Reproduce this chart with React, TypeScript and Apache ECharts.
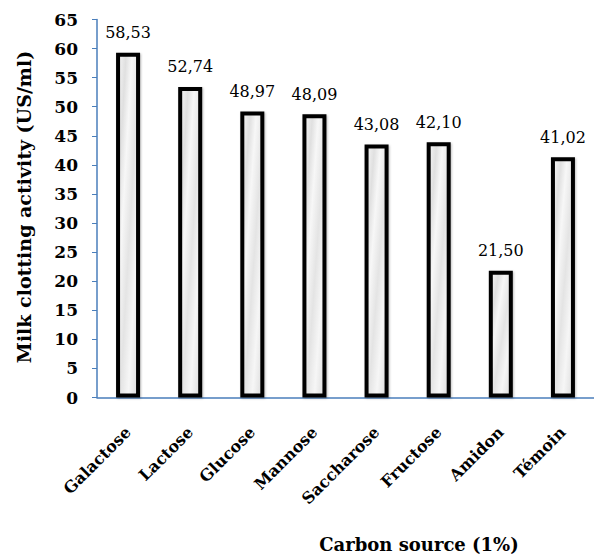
import React, { useEffect, useRef } from "react";
import * as echarts from "echarts";

const categories = ["Galactose", "Lactose", "Glucose", "Mannose", "Saccharose", "Fructose", "Amidon", "Témoin"];
const barHeights = [59.3, 53.4, 49.2, 48.7, 43.5, 43.9, 21.8, 41.3];
const valueLabels = ["58,53", "52,74", "48,97", "48,09", "43,08", "42,10", "21,50", "41,02"];
const yMin = 0;
const yMax = 65;
const yStep = 5;
const yTitle = "Milk clotting activity (US/ml)";
const xTitle = "Carbon source (1%)";

const FONT = "'DejaVu Serif', 'Liberation Serif', serif";
const AXIS_BLUE = "#4a7ebb";

export default function App() {
  const ref = useRef<HTMLDivElement>(null);
  useEffect(() => {
    if (!ref.current) return;
    const chart = echarts.init(ref.current, undefined, { renderer: "svg" });
    const fill = new echarts.graphic.LinearGradient(0, 0, 1, 1, [
      { offset: 0, color: "#f6f6f6" },
      { offset: 0.2, color: "#e0e0e0" },
      { offset: 0.35, color: "#f7f7f7" },
      { offset: 0.55, color: "#e4e4e4" },
      { offset: 0.75, color: "#f6f6f6" },
      { offset: 1, color: "#dcdcdc" },
    ]);
    chart.setOption({
      animation: false,
      backgroundColor: "#ffffff",
      grid: { left: 97, top: 19.5, right: -6, bottom: 156.5 },
      xAxis: {
        type: "category",
        data: categories,
        axisLine: { show: true, lineStyle: { color: AXIS_BLUE, width: 1.5 } },
        axisTick: { show: false },
        axisLabel: {
          rotate: 45,
          margin: 32,
          color: "#000",
          fontFamily: FONT,
          fontWeight: "bold",
          fontSize: 16,
          interval: 0,
        },
      },
      yAxis: {
        type: "value",
        min: yMin,
        max: yMax,
        interval: yStep,
        axisLine: { show: true, lineStyle: { color: AXIS_BLUE, width: 1.5 } },
        axisTick: { show: true, length: 5, lineStyle: { color: AXIS_BLUE } },
        splitLine: { show: false },
        axisLabel: {
          margin: 19,
          color: "#000",
          fontFamily: FONT,
          fontWeight: "bold",
          fontSize: 17,
        },
      },
      series: [
        {
          type: "bar",
          data: barHeights,
          barWidth: 24,
          itemStyle: {
            color: fill,
            borderColor: "#000",
            borderWidth: 4,
            shadowColor: "rgba(0,0,0,0.25)",
            shadowBlur: 2,
            shadowOffsetX: 1,
            shadowOffsetY: 1,
          },
          label: {
            show: true,
            position: "top",
            distance: 12,
            formatter: (p: any) => valueLabels[p.dataIndex],
            color: "#000",
            fontFamily: FONT,
            fontSize: 16,
          },
        },
      ],
      graphic: [
        {
          type: "text",
          x: 24,
          y: 207,
          rotation: Math.PI / 2,
          style: {
            text: yTitle,
            fill: "#000",
            font: `bold 19px ${FONT}`,
            textAlign: "center",
            textVerticalAlign: "middle",
          },
        },
        {
          type: "text",
          x: 419,
          y: 544,
          style: {
            text: xTitle,
            fill: "#000",
            font: `bold 18px ${FONT}`,
            textAlign: "center",
            textVerticalAlign: "middle",
          },
        },
      ],
    });
    return () => chart.dispose();
  }, []);
  return (
    <div
      ref={ref}
      style={{ position: "fixed", left: 0, top: 0, width: 594, height: 554, background: "#fff" }}
    />
  );
}
